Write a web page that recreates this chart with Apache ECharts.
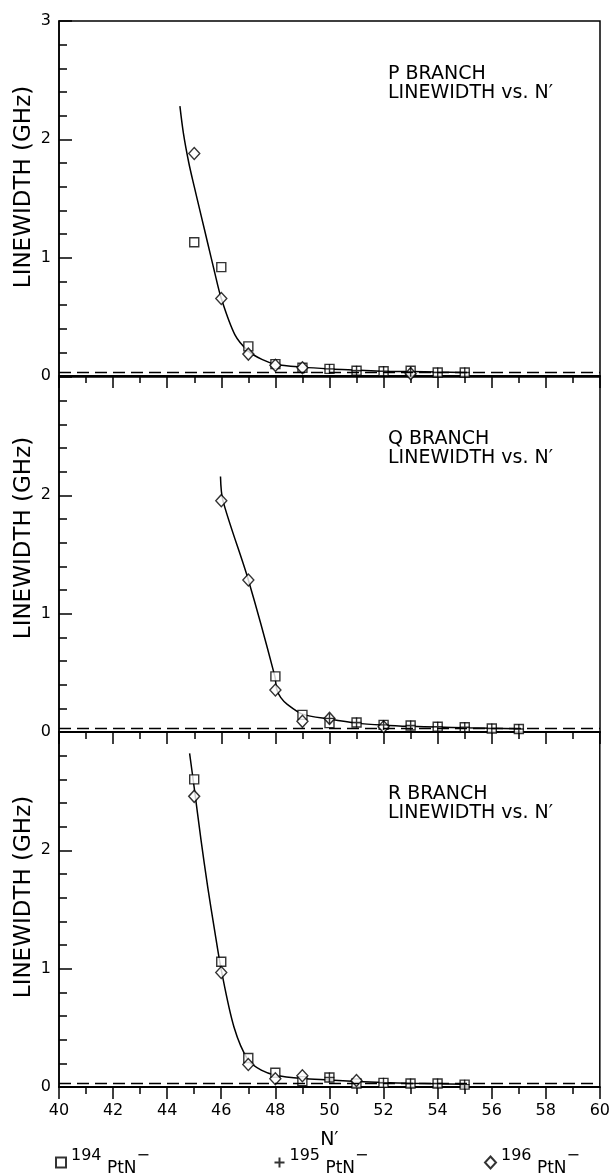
<!DOCTYPE html>
<html>
<head>
<meta charset="utf-8">
<script src="https://cdn.jsdelivr.net/npm/echarts@6/dist/echarts.min.js"></script>
<style>
  html, body { margin: 0; padding: 0; background: #fff; }
  #chart { width: 613px; height: 1173px; }
</style>
</head>
<body>
<div id="chart"></div>
<script>
// P 分支
var pN = [45, 46, 47, 48, 49, 50, 51, 52, 53, 54, 55];
var pSq194 = [1.13, 0.92, 0.25, 0.10, 0.07, 0.06, 0.045, 0.04, 0.045, 0.03, 0.03];
var pPlus195 = [null, null, null, null, null, 0.06, 0.045, 0.04, 0.035, 0.03, 0.03];
var pDia196 = [1.88, 0.655, 0.185, 0.09, 0.07, null, null, null, 0.02, null, null];
var pFitN = [44.47, 44.6, 44.8, 45, 45.25, 45.5, 45.75, 46, 46.5, 47, 47.5, 48, 49, 50, 51, 52, 53, 54, 55];
var pFitW = [2.28, 2.05, 1.80, 1.60, 1.36, 1.12, 0.88, 0.655, 0.35, 0.21, 0.14, 0.10, 0.075, 0.06, 0.05, 0.04, 0.037, 0.033, 0.03];

// Q 分支
var qN = [46, 47, 48, 49, 50, 51, 52, 53, 54, 55, 56, 57];
var qSq194 = [null, null, 0.47, 0.145, 0.075, 0.08, 0.06, 0.055, 0.045, 0.04, 0.03, 0.025];
var qPlus195 = [null, null, null, null, 0.115, 0.08, 0.06, 0.055, 0.045, 0.04, 0.03, 0.025];
var qDia196 = [1.955, 1.285, 0.355, 0.09, 0.115, null, 0.045, null, null, null, null, null];
var qFitN = [45.97, 46.06, 47, 47.98, 48.05, 48.2, 48.45, 49, 50, 51, 52, 53, 54, 55, 56, 57];
var qFitW = [2.16, 1.955, 1.285, 0.47, 0.36, 0.29, 0.231, 0.151, 0.109, 0.075, 0.058, 0.048, 0.042, 0.036, 0.032, 0.028];

// R 分支
var rN = [45, 46, 47, 48, 49, 50, 51, 52, 53, 54, 55];
var rSq194 = [2.60, 1.058, 0.245, 0.12, 0.05, 0.08, 0.03, 0.035, 0.03, 0.03, 0.02];
var rPlus195 = [null, null, null, null, null, 0.08, null, 0.035, 0.03, 0.03, 0.02];
var rDia196 = [2.456, 0.967, 0.19, 0.07, 0.095, null, 0.055, null, null, null, null];
var rFitN = [44.83, 45, 45.25, 45.5, 45.75, 46, 46.47, 47, 47.5, 48, 49, 50, 51, 52, 53, 54, 55];
var rFitW = [2.82, 2.53, 2.09, 1.69, 1.33, 0.99, 0.507, 0.225, 0.14, 0.10, 0.072, 0.06, 0.047, 0.038, 0.032, 0.028, 0.024];

// 虚线基线 (GHz)
var baseLevel = 0.03;
var branchTitles = ['P BRANCH', 'Q BRANCH', 'R BRANCH'];
var isotopes = ['194', '195', '196'];

var panels = [
    [pN, pSq194, pPlus195, pDia196, pFitN, pFitW],
    [qN, qSq194, qPlus195, qDia196, qFitN, qFitW],
    [rN, rSq194, rPlus195, rDia196, rFitN, rFitW]
];

var myChart = echarts.init(document.getElementById('chart'));
var font = 'DejaVu Sans';
var gridTop = [21, 377, 732];

function pts(ns, vs) {
    return ns.map(function (n, i) { return [n, vs[i]]; })
        .filter(function (p) { return p[1] != null; });
}

var grids = [], xAxes = [], yAxes = [], series = [], graphics = [];
panels.forEach(function (p, i) {
    var last = i == 2;
    grids.push({
        left: 59, width: 541, top: gridTop[i], height: 355,
        show: true, borderColor: '#000', borderWidth: 1.5, backgroundColor: 'transparent'
    });
    xAxes.push({
        type: 'value', gridIndex: i, min: 40, max: 60, interval: 2,
        axisLine: { show: true, lineStyle: { color: '#000', width: 2 } },
        axisTick: { show: true, inside: false, length: 12, lineStyle: { color: '#000', width: 1.5 } },
        minorTick: { show: true, splitNumber: 2, length: 7, lineStyle: { color: '#000', width: 1.5 } },
        splitLine: { show: false },
        axisLabel: { show: last, color: '#000', fontFamily: font, fontSize: 16, margin: 16 },
        name: last ? 'N\u2032' : '',
        nameLocation: 'middle', nameGap: 44,
        nameTextStyle: { color: '#000', fontFamily: font, fontSize: 19 }
    });
    yAxes.push({
        type: 'value', gridIndex: i, min: 0, max: 3, interval: 1,
        axisLine: { show: true, lineStyle: { color: '#000', width: 1.5 } },
        axisTick: { show: true, inside: true, length: 13, lineStyle: { color: '#000', width: 1.5 } },
        minorTick: { show: true, splitNumber: 5, length: 8, lineStyle: { color: '#000', width: 1.5 } },
        splitLine: { show: false },
        axisLabel: { color: '#000', fontFamily: font, fontSize: 16, margin: 8, showMaxLabel: i == 0 }
    });

    // 拟合曲线 + 虚线基线
    series.push({
        type: 'line', xAxisIndex: i, yAxisIndex: i,
        data: pts(p[4], p[5]), smooth: 0.3, showSymbol: false, silent: true,
        lineStyle: { color: '#000', width: 1.5 }, z: 2,
        markLine: {
            silent: true, symbol: ['none', 'none'], label: { show: false },
            lineStyle: { color: '#000', width: 1.4, type: [12, 6] },
            data: [{ yAxis: baseLevel }]
        }
    });
    var common = { type: 'scatter', xAxisIndex: i, yAxisIndex: i, silent: true };
    series.push(Object.assign({}, common, {
        name: isotopes[0], data: pts(p[0], p[1]), symbol: 'rect', symbolSize: 9, z: 3,
        itemStyle: { color: '#fff', borderColor: '#000', borderWidth: 1.4 }
    }));
    series.push(Object.assign({}, common, {
        name: isotopes[2], data: pts(p[0], p[3]), symbol: 'diamond', symbolSize: [11, 12], z: 3,
        itemStyle: { color: '#fff', borderColor: '#000', borderWidth: 1.4 }
    }));
    series.push(Object.assign({}, common, {
        name: isotopes[1], data: pts(p[0], p[2]), symbol: 'path://M0,5L10,5M5,0L5,10', symbolSize: 10, z: 4,
        itemStyle: { color: 'none', borderColor: '#000', borderWidth: 1.4 }
    }));

    // 纵轴标题
    graphics.push({
        type: 'text', x: 24, y: [187, 538, 897][i], rotation: Math.PI / 2,
        style: {
            text: 'LINEWIDTH (GHz)', fill: '#000', font: '23px "' + font + '"',
            textAlign: 'center', textVerticalAlign: 'middle', align: 'center', verticalAlign: 'middle'
        }
    });
    // 分支标注
    graphics.push({
        type: 'text', x: 388, y: [65, 430, 785][i],
        style: {
            text: branchTitles[i] + '\nLINEWIDTH vs. N\u2032', fill: '#000', font: '19px "' + font + '"',
            lineHeight: 19, textAlign: 'left', textVerticalAlign: 'top', align: 'left', verticalAlign: 'top'
        }
    });
});

function legendAt(name, left) {
    var isDia = name == '196';
    return {
        data: [name], left: left, top: 1148, padding: 0,
        itemWidth: isDia ? 11 : 10, itemHeight: isDia ? 12 : 10,
        selectedMode: false,
        formatter: function (n) { return '{s|' + n + '}{b| PtN}{s|\u2212}'; },
        textStyle: {
            color: '#000', fontFamily: font,
            rich: {
                s: { fontFamily: font, fontSize: 16, verticalAlign: 'top' },
                b: { fontFamily: font, fontSize: 17, verticalAlign: 'bottom', padding: [12, 0, 0, 0] }
            }
        }
    };
}

var option = {
    backgroundColor: '#fff',
    animation: false,
    grid: grids,
    xAxis: xAxes,
    yAxis: yAxes,
    legend: [legendAt('194', 55), legendAt('195', 272), legendAt('196', 484)],
    graphic: graphics,
    series: series
};
myChart.setOption(option);
</script>
</body>
</html>
